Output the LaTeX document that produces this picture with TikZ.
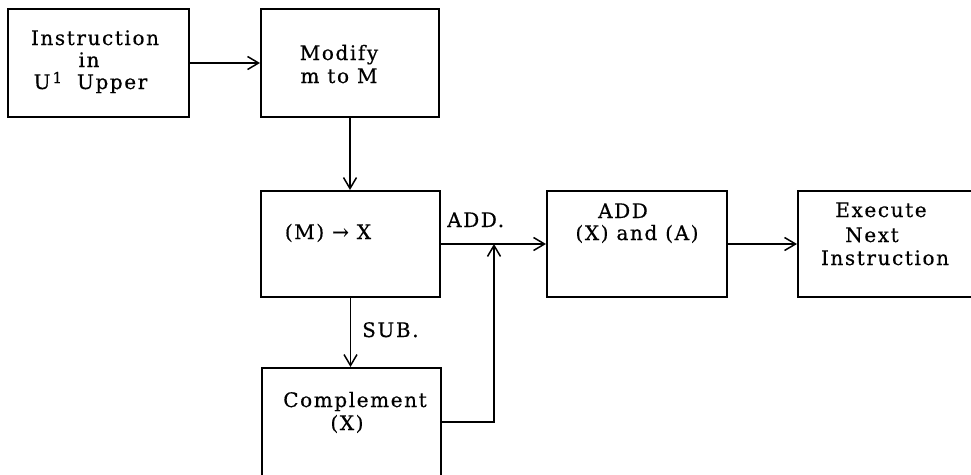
\documentclass[tikz,border=0pt]{standalone}
\usepackage{fontspec}
\setmainfont{DejaVu Serif}[LetterSpace=8, FakeBold=0.5]
\usetikzlibrary{arrows.meta}

\tikzset{
	blk/.style={draw, line width=2pt, minimum width=#1, minimum height=106pt, inner sep=0pt},
	blk/.default=179pt,
	txt/.style={anchor=base, align=center, inner sep=0pt, font=\fontsize{20}{23}\selectfont},
	lbl/.style={anchor=base west, inner sep=0pt, font=\fontsize{20}{23}\selectfont},
	arr/.style={line width=1.5pt, -{Straight Barb[length=11pt, width=13pt]}}
}

\begin{document}
\begin{tikzpicture}[x=1pt, y=-1pt]
	\useasboundingbox (0,0) rectangle (971,474);
	\clip (0,0) rectangle (971,474);

	\node[blk=181pt, minimum height=108pt] (ins) at (98.5,63) {};
	\node[blk=178pt, minimum height=108pt] (mod) at (350,63) {};
	\node[blk] (mx) at (350.5,244) {};
	\node[blk, minimum height=130pt] (comp) at (351.5,433) {};
	\node[blk=180pt] (add) at (637,244) {};
	\node[blk=192pt] (exec) at (894,244) {};

	\node[txt] (inst) at (95,89) {Instruction\\[-1pt]\hspace*{-12pt}in\\[-1pt]\hspace*{-9pt}U\raisebox{6pt}{\fontsize{15}{15}\selectfont\hspace{2pt}1}\hspace{7pt} Upper};
	\node[txt] (modt) at (339,83) {Modify\\m to M};
	\node[txt] (mxt) at (328,239) {(M) → X};
	\node[txt] (addt) at (637,240) {\hspace*{-28pt}ADD\\[-1pt](X) and (A)};
	\node[txt] (exect) at (885,265) {\hspace*{-8pt}Execute\\[2pt]\hspace*{-26pt}Next\\Instruction};
	\node[txt] (compt) at (355,430) {Complement\\\hspace*{-16pt}(X)};
	\node[lbl] (sub) at (362,337) {SUB.};
	\node[lbl] (addl) at (447,227) {ADD.};

	\coordinate (join) at (494,244);

	\draw[arr] (ins) -- (mod);
	\draw[arr] (mod.south) -- (mod.south |- mx.north);
	\draw[arr] (mx.east) -- (add.west);
	\draw[arr] (mx.south) -- (mx.south |- comp.north);
	\draw[arr] ([yshift=11pt]comp.east) -| (join);
	\draw[arr] (add) -- (exec);
\end{tikzpicture}
\end{document}
